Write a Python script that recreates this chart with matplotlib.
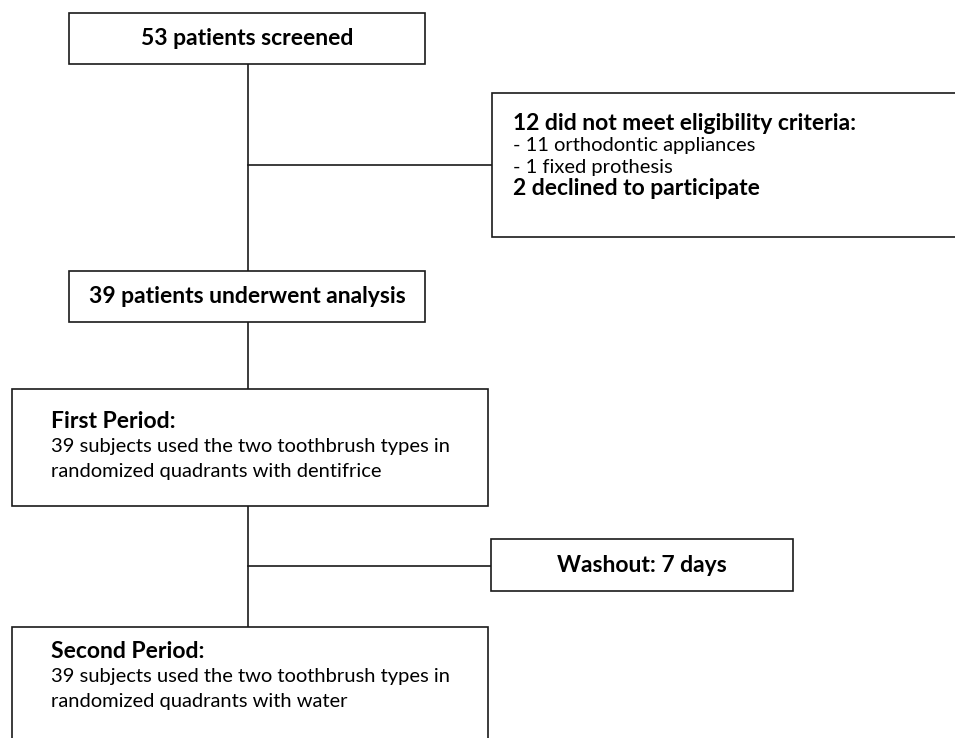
import matplotlib
matplotlib.use("Agg")
import matplotlib.pyplot as plt
from matplotlib.patches import Rectangle

plt.rcParams['font.family'] = ['Lato', 'DejaVu Sans']

# boxes: left, top, right, bottom (pixels, y downward)
box_names = ["screened", "excluded", "analysed", "first", "washout", "second"]
box_left = [69, 492, 69, 12, 491, 12]
box_top = [13, 93, 271, 389, 539, 627]
box_right = [425, 962, 425, 488, 793, 488]
box_bottom = [64, 237, 322, 506, 591, 745]

# centred one-line labels
centre_text = {
    "screened": "53 patients screened",
    "analysed": "39 patients underwent analysis",
    "washout": "Washout: 7 days",
}

# multi-line labels: (text, bold)
lines_text = {
    "excluded": [("12 did not meet eligibility criteria:", True),
                 ("- 11 orthodontic appliances", False),
                 ("- 1 fixed prothesis", False),
                 ("2 declined to participate", True)],
    "first": [("First Period:", True),
              ("39 subjects used the two toothbrush types in", False),
              ("randomized quadrants with dentifrice", False)],
    "second": [("Second Period:", True),
               ("39 subjects used the two toothbrush types in", False),
               ("randomized quadrants with water", False)],
}
text_x = {"excluded": 513, "first": 51, "second": 51}
text_y0 = {"excluded": 124, "first": 422, "second": 652}
line_gap = {"excluded": 21.5, "first": 24.5, "second": 24.5}

bold_size = 16.5
normal_size = 14.5
spine_x = 248
ec = "#1a1a1a"
lw = 1.2

fig = plt.figure(figsize=(9.55, 7.38), dpi=100)
ax = fig.add_axes([0, 0, 1, 1])
ax.set_xlim(0, 955)
ax.set_ylim(738, 0)
ax.axis("off")

# connectors
ax.plot([spine_x, spine_x], [64, 271], color=ec, lw=lw)
ax.plot([spine_x, 492], [165, 165], color=ec, lw=lw)
ax.plot([spine_x, spine_x], [322, 389], color=ec, lw=lw)
ax.plot([spine_x, spine_x], [506, 627], color=ec, lw=lw)
ax.plot([spine_x, 491], [566, 566], color=ec, lw=lw)

for i, name in enumerate(box_names):
    ax.add_patch(Rectangle((box_left[i], box_top[i]), box_right[i] - box_left[i],
                           box_bottom[i] - box_top[i], facecolor="white",
                           edgecolor=ec, lw=lw, zorder=2))
    if name in centre_text:
        ax.text((box_left[i] + box_right[i]) / 2, (box_top[i] + box_bottom[i]) / 2,
                centre_text[name], ha="center", va="center", fontsize=bold_size,
                fontweight="bold", color="black", zorder=3)
    if name in lines_text:
        for j, (t, b) in enumerate(lines_text[name]):
            ax.text(text_x[name], text_y0[name] + j * line_gap[name], t,
                    ha="left", va="center",
                    fontsize=bold_size if b else normal_size,
                    fontweight="bold" if b else "normal", color="black", zorder=3)

fig.savefig("out.png", dpi=100)
